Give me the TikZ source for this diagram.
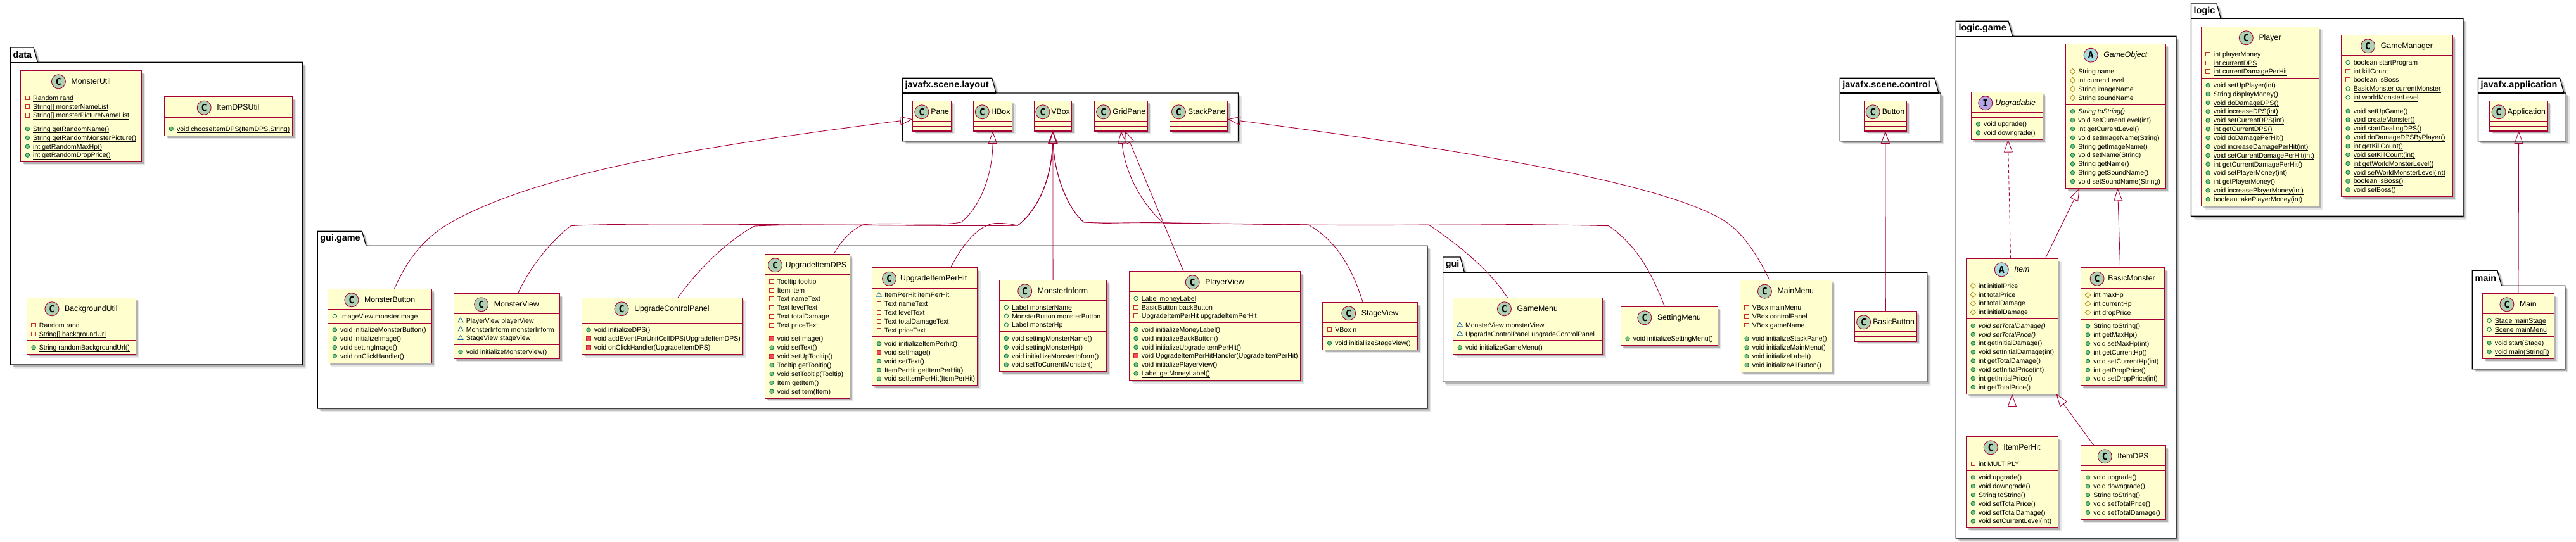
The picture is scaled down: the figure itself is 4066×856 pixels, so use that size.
\documentclass[tikz,border=0pt]{standalone}
\usepackage{fontspec}
\setmainfont{Liberation Sans}
\newfontfamily\spotfont{DejaVu Sans Mono}
\usetikzlibrary{arrows.meta,positioning,shadows,shapes.geometric}

\definecolor{umlred}{HTML}{A80036}
\definecolor{umlfill}{HTML}{FEFECE}
\definecolor{spotgreen}{HTML}{ADD1B2}
\definecolor{spotcyan}{HTML}{A9DCDF}
\definecolor{spotviolet}{HTML}{B4A7E5}
\definecolor{prline}{HTML}{C82930}
\definecolor{prfill}{HTML}{F24D5C}
\definecolor{publine}{HTML}{038048}
\definecolor{pubfill}{HTML}{84BE84}
\definecolor{pkgblue}{HTML}{1963A0}
\definecolor{protbrown}{HTML}{B38D22}

\newcommand{\titlefont}{\fontsize{12.3}{14}\selectfont}
\newcommand{\stc}[1]{\sbox0{#1}\rlap{\rule[-2.8pt]{\wd0}{.8pt}}\usebox0}
\newcommand{\countrows}[2]{\gdef#1{0}\if\relax\detokenize{#2}\relax\else
  \foreach \e [count=\n] in {#2} {\xdef#1{\n}}\fi}
\newcommand{\memberrows}[4]{\if\relax\detokenize{#4}\relax\else
  \foreach \vis/\txt [count=\i] in {#4} {
    \pgfmathsetmacro{\rowy}{#3+3.8+(\i-0.5)*13.85}
    \node[\vis] (#1-mark\i) at (#2+10.7,\rowy) {};
    \node[memberrow] (#1-row\i) at (#2+19.3,\rowy+1.1) {\txt};
  }\fi}
% [spot gap], id, x, y, width, spot letter, title, fields, methods
\newcommand{\classbox}[9][9]{
  \countrows{\nf}{#8}\countrows{\nm}{#9}
  \pgfmathsetmacro{\boxh}{47.6+(\nf+\nm)*13.85}
  \pgfmathsetmacro{\fieldy}{#4+32.4}
  \pgfmathsetmacro{\methody}{\fieldy+7.6+\nf*13.85}
  \pgfmathsetmacro{\methodoff}{\methody-#4}
  \node[umlclass, minimum width=#5pt, minimum height=\boxh pt] (#2) at (#3,#4) {};
  \draw[umlline] ([yshift=-32.4pt]#2.north west) -- ([yshift=-32.4pt]#2.north east);
  \draw[umlline] ([yshift=-\methodoff pt]#2.north west) -- ([yshift=-\methodoff pt]#2.north east);
  \node[classtitle] (#2-title) at (#3+#5/2+11+#1/2,#4+17.5) {#7};
  \node[spot#6, left=#1pt of #2-title] (#2-spot) {#6};
  \memberrows{#2-f}{#3}{\fieldy}{#8}
  \memberrows{#2-m}{#3}{\methody}{#9}
}
% id, x1, tab top, tab right, body top, x2, y2, label
\newcommand{\umlpackage}[8]{
  \filldraw[pkg] (#2,#5) -- (#2,#3) -- (#4,#3) -- (#4+6.5,#5) -- (#6,#5) -- (#6,#7) -- (#2,#7) -- cycle;
  \draw[pkgline] (#2,#5) -- (#4+6.5,#5);
  \node[pkglabel] (#1-label) at (#2+4,{(#3+#5)/2}) {#8};
}

\begin{document}
\begin{tikzpicture}[
  x=1pt, y=-1pt,
  softshadow/.style={drop shadow={shadow xshift=5.5pt, shadow yshift=-5.5pt, fill=black, opacity=.1},
                     drop shadow={shadow xshift=3.5pt, shadow yshift=-3.5pt, fill=black, opacity=.22}},
  umlclass/.style={draw=umlred, fill=umlfill, line width=1.2pt, anchor=north west,
                   inner sep=0pt, outer sep=0pt, softshadow},
  umlline/.style={draw=umlred, line width=1.1pt},
  pkg/.style={draw=black, fill=white, line width=1.2pt, line join=miter, softshadow},
  pkgline/.style={draw=black, line width=1.2pt},
  pkglabel/.style={anchor=west, inner sep=0pt, font=\fontsize{14.4}{16}\selectfont\bfseries},
  classtitle/.style={inner sep=0pt, text height=9pt, text depth=2.5pt, font=\titlefont},
  memberrow/.style={anchor=west, inner sep=0pt, text height=8pt, text depth=2.5pt,
                    font=\fontsize{10.55}{14}\selectfont},
  spotbase/.style={circle, draw=umlred, line width=.9pt, inner sep=0pt, minimum size=22pt,
                   outer sep=0pt, font=\spotfont\fontsize{15}{15}\selectfont\bfseries},
  spotC/.style={spotbase, fill=spotgreen},
  spotA/.style={spotbase, fill=spotcyan},
  spotI/.style={spotbase, fill=spotviolet},
  fpri/.style={rectangle, draw=prline, line width=.8pt, inner sep=0pt, minimum size=6.5pt},
  mpri/.style={rectangle, draw=prline, fill=prfill, line width=.8pt, inner sep=0pt, minimum size=6.5pt},
  fpub/.style={circle, draw=publine, line width=.8pt, inner sep=0pt, minimum size=6.5pt},
  mpub/.style={circle, draw=publine, fill=pubfill, line width=.8pt, inner sep=0pt, minimum size=6.5pt},
  fpkg/.style={regular polygon, regular polygon sides=3, draw=pkgblue, line width=.8pt,
               inner sep=0pt, minimum size=9.5pt},
  fpro/.style={diamond, draw=protbrown, line width=.8pt, inner sep=0pt, minimum size=9pt},
  extends/.style={draw=umlred, line width=.9pt,
                  -{Triangle[open, length=20pt, width=14pt, line width=.9pt]}},
  realizes/.style={extends, dash pattern=on 5pt off 4pt}
]
  \useasboundingbox (0,0) rectangle (4066,856);

  % packages
  \umlpackage{data}{16.3}{75}{53}{98.3}{477.6}{576}{data}
  \umlpackage{guigame}{501.2}{365.3}{571.4}{388.3}{2253}{645}{gui.game}
  \umlpackage{gui}{2277.6}{406}{2305}{430.3}{3041.8}{603.3}{gui}
  \umlpackage{layout}{1424.4}{123.3}{1565.7}{147}{1954.5}{222.7}{javafx.scene.layout}
  \umlpackage{control}{2904.2}{123.3}{3053.5}{147}{3063.3}{222.7}{javafx.scene.control}
  \umlpackage{logicgame}{3087.3}{33.3}{3170}{57.3}{3434.9}{850}{logic.game}
  \umlpackage{logic}{3458.5}{6}{3498.8}{29.3}{3887.9}{341.3}{logic}
  \umlpackage{application}{3911.4}{123.3}{4040.5}{147}{4050.2}{222.7}{javafx.application}
  \umlpackage{mainpkg}{3902.3}{427.3}{3941.9}{451.3}{4048.6}{582.7}{main}

  % data
  \classbox{MonsterUtil}{32.7}{111.3}{191}{C}{MonsterUtil}
    {fpri/{\stc{Random rand}}, fpri/{\stc{String[] monsterNameList}}, fpri/{\stc{String[] monsterPictureNameList}}}
    {mpub/{\stc{String getRandomName()}}, mpub/{\stc{String getRandomMonsterPicture()}},
     mpub/{\stc{int getRandomMaxHp()}}, mpub/{\stc{int getRandomDropPrice()}}}
  \classbox{ItemDPSUtil}{259.6}{152.7}{201.6}{C}{ItemDPSUtil}{}
    {mpub/{\stc{void chooseItemDPS(ItemDPS,String)}}}
  \classbox{BackgroundUtil}{42.4}{470.3}{171.9}{C}{BackgroundUtil}
    {fpri/{\stc{Random rand}}, fpri/{\stc{String[] backgroundUrl}}}
    {mpub/{\stc{String randomBackgroundUrl()}}}

  % gui.game
  \classbox{MonsterButton}{517.6}{456.3}{164}{C}{MonsterButton}
    {fpub/{\stc{ImageView monsterImage}}}
    {mpub/{void initializeMonsterButton()}, mpub/{void initializeImage()},
     mpub/{\stc{void settingImage()}}, mpub/{void onClickHandler()}}
  \classbox{MonsterView}{716.3}{463.3}{167}{C}{MonsterView}
    {fpkg/{PlayerView playerView}, fpkg/{MonsterInform monsterInform}, fpkg/{StageView stageView}}
    {mpub/{void initializeMonsterView()}}
  \classbox{UpgradeControlPanel}{918.4}{470.3}{253}{C}{UpgradeControlPanel}{}
    {mpub/{void initializeDPS()}, mpri/{void addEventForUnitCellDPS(UpgradeItemDPS)},
     mpri/{void onClickHandler(UpgradeItemDPS)}}
  \classbox[5]{UpgradeItemDPS}{1207.3}{401.3}{134.3}{C}{UpgradeItemDPS}
    {fpri/{Tooltip tooltip}, fpri/{Item item}, fpri/{Text nameText}, fpri/{Text levelText},
     fpri/{Text totalDamage}, fpri/{Text priceText}}
    {mpri/{void setImage()}, mpub/{void setText()}, mpri/{void setUpTooltip()},
     mpub/{Tooltip getTooltip()}, mpub/{void setTooltip(Tooltip)}, mpub/{Item getItem()},
     mpub/{void setItem(Item)}}
  \classbox[6.4]{UpgradeItemPerHit}{1376.7}{422.7}{165.7}{C}{UpgradeItemPerHit}
    {fpkg/{ItemPerHit itemPerHit}, fpri/{Text nameText}, fpri/{Text levelText},
     fpri/{Text totalDamageText}, fpri/{Text priceText}}
    {mpub/{void initializeItemPerhit()}, mpri/{void setImage()}, mpub/{void setText()},
     mpub/{ItemPerHit getItemPerHit()}, mpub/{void setItemPerHit(ItemPerHit)}}
  \classbox{MonsterInform}{1577.6}{442.3}{168.9}{C}{MonsterInform}
    {fpub/{\stc{Label monsterName}}, fpub/{\stc{MonsterButton monsterButton}}, fpub/{\stc{Label monsterHp}}}
    {mpub/{void settingMonsterName()}, mpub/{void settingMonsterHp()},
     mpub/{void initiallizeMonsterInform()}, mpub/{\stc{void setToCurrentMonster()}}}
  \classbox{PlayerView}{1782.4}{428.3}{270.3}{C}{PlayerView}
    {fpub/{\stc{Label moneyLabel}}, fpri/{BasicButton backButton}, fpri/{UpgradeItemPerHit upgradeItemPerHit}}
    {mpub/{void initializeMoneyLabel()}, mpub/{void initializeBackButton()},
     mpub/{void initializeUpgradeItemPerHit()}, mpri/{void UpgradeItemPerHitHandler(UpgradeItemPerHit)},
     mpub/{void initializePlayerView()}, mpub/{\stc{Label getMoneyLabel()}}}
  \classbox{StageView}{2087.8}{477.3}{149.8}{C}{StageView}
    {fpri/{VBox n}}
    {mpub/{void initiallizeStageView()}}

  % gui
  \classbox{GameMenu}{2293.5}{470.3}{235.5}{C}{GameMenu}
    {fpkg/{MonsterView monsterView}, fpkg/{UpgradeControlPanel upgradeControlPanel}}
    {mpub/{void initializeGameMenu()}}
  \classbox{SettingMenu}{2558.3}{484.3}{153.4}{C}{SettingMenu}{}
    {mpub/{void initializeSettingMenu()}}
  \classbox{MainMenu}{2746.3}{442.7}{145}{C}{MainMenu}
    {fpri/{VBox mainMenu}, fpri/{VBox controlPanel}, fpri/{VBox gameName}}
    {mpub/{void initializeStackPane()}, mpub/{void initializeMainMenu()},
     mpub/{void initializeLabel()}, mpub/{void initializeAllButton()}}
  \classbox[3.5]{BasicButton}{2927.3}{491.3}{98}{C}{BasicButton}{}{}

  % javafx
  \classbox[3.3]{Pane}{1440.7}{159.3}{60.7}{C}{Pane}{}{}
  \classbox[2.9]{HBox}{1536.6}{159.3}{60.7}{C}{HBox}{}{}
  \classbox[2.4]{VBox}{1632.6}{159.3}{58.6}{C}{VBox}{}{}
  \classbox[3.4]{GridPane}{1727.4}{159.3}{84.2}{C}{GridPane}{}{}
  \classbox[3.3]{StackPane}{1846.3}{159.3}{91.4}{C}{StackPane}{}{}
  \classbox[3.5]{Button}{2942.5}{159.3}{66.5}{C}{Button}{}{}
  \classbox[2.7]{Application}{3929.5}{159.3}{92.2}{C}{Application}{}{}

  % logic.game
  \classbox{GameObject}{3260.8}{69.7}{157.5}{A}{\textit{GameObject}}
    {fpro/{String name}, fpro/{int currentLevel}, fpro/{String imageName}, fpro/{String soundName}}
    {mpub/{\textit{String toString()}}, mpub/{void setCurrentLevel(int)}, mpub/{int getCurrentLevel()},
     mpub/{void setImageName(String)}, mpub/{String getImageName()}, mpub/{void setName(String)},
     mpub/{String getName()}, mpub/{String getSoundName()}, mpub/{void setSoundName(String)}}
  \classbox[4.4]{Upgradable}{3111.7}{145.3}{112.5}{I}{\textit{Upgradable}}{}
    {mpub/{void upgrade()}, mpub/{void downgrade()}}
  \classbox{Item}{3103.6}{408.3}{144.6}{A}{\textit{Item}}
    {fpro/{int initialPrice}, fpro/{int totalPrice}, fpro/{int totalDamage}, fpro/{int initialDamage}}
    {mpub/{\textit{void setTotalDamage()}}, mpub/{\textit{void setTotalPrice()}}, mpub/{int getInitialDamage()},
     mpub/{void setInitialDamage(int)}, mpub/{int getTotalDamage()}, mpub/{void setInitialPrice(int)},
     mpub/{int getInitialPrice()}, mpub/{int getTotalPrice()}}
  \classbox[6]{BasicMonster}{3284.8}{422.7}{131.5}{C}{BasicMonster}
    {fpro/{int maxHp}, fpro/{int currentHp}, fpro/{int dropPrice}}
    {mpub/{String toString()}, mpub/{int getMaxHp()}, mpub/{void setMaxHp(int)}, mpub/{int getCurrentHp()},
     mpub/{void setCurrentHp(int)}, mpub/{int getDropPrice()}, mpub/{void setDropPrice(int)}}
  \classbox{ItemPerHit}{3103.6}{689.3}{144.6}{C}{ItemPerHit}
    {fpri/{int MULTIPLY}}
    {mpub/{void upgrade()}, mpub/{void downgrade()}, mpub/{String toString()}, mpub/{void setTotalPrice()},
     mpub/{void setTotalDamage()}, mpub/{void setCurrentLevel(int)}}
  \classbox{ItemDPS}{3284.8}{703.3}{133.5}{C}{ItemDPS}{}
    {mpub/{void upgrade()}, mpub/{void downgrade()}, mpub/{String toString()}, mpub/{void setTotalPrice()},
     mpub/{void setTotalDamage()}}

  % logic
  \classbox{Player}{3474.4}{42.3}{186}{C}{Player}
    {fpri/{\stc{int playerMoney}}, fpri/{\stc{int currentDPS}}, fpri/{\stc{int currentDamagePerHit}}}
    {mpub/{\stc{void setUpPlayer(int)}}, mpub/{\stc{String displayMoney()}}, mpub/{\stc{void doDamageDPS()}},
     mpub/{\stc{void increaseDPS(int)}}, mpub/{\stc{void setCurrentDPS(int)}}, mpub/{\stc{int getCurrentDPS()}},
     mpub/{\stc{void doDamagePerHit()}}, mpub/{\stc{void increaseDamagePerHit(int)}},
     mpub/{\stc{void setCurrentDamagePerHit(int)}}, mpub/{\stc{int getCurrentDamagePerHit()}},
     mpub/{\stc{void setPlayerMoney(int)}}, mpub/{\stc{int getPlayerMoney()}},
     mpub/{\stc{void increasePlayerMoney(int)}}, mpub/{\stc{boolean takePlayerMoney(int)}}}
  \classbox{GameManager}{3695.3}{55.3}{176.1}{C}{GameManager}
    {fpub/{\stc{boolean startProgram}}, fpri/{\stc{int killCount}}, fpri/{\stc{boolean isBoss}},
     fpub/{\stc{BasicMonster currentMonster}}, fpub/{\stc{int worldMonsterLevel}}}
    {mpub/{\stc{void setUpGame()}}, mpub/{\stc{void createMonster()}}, mpub/{\stc{void startDealingDPS()}},
     mpub/{\stc{void doDamageDPSByPlayer()}}, mpub/{\stc{int getKillCount()}}, mpub/{\stc{void setKillCount(int)}},
     mpub/{\stc{int getWorldMonsterLevel()}}, mpub/{\stc{void setWorldMonsterLevel(int)}},
     mpub/{\stc{boolean isBoss()}}, mpub/{\stc{void setBoss()}}}

  % main
  \classbox{Main}{3918.4}{463.3}{113}{C}{Main}
    {fpub/{\stc{Stage mainStage}}, fpub/{\stc{Scene mainMenu}}}
    {mpub/{void start(Stage)}, mpub/{\stc{void main(String[])}}}

  % where the long edges join before they rise to VBox
  \coordinate (vboxleft) at (1606.5,356);
  \coordinate (vboxright) at (1711,351);

  % inheritance
  \draw[extends] ([xshift=22.8pt]MonsterButton.north) .. controls (645,405) and (670,378) .. (705,355)
    .. controls (850,270) and (1130,228) .. ([yshift=-5.2pt]Pane.west);
  \draw[extends] ([xshift=41.5pt]UpgradeItemDPS.north) .. controls (1325,385) and (1340,365) .. (1362,355)
    .. controls (1400,350) and (1480,358) .. (1517,351) .. controls (1550,325) and (1567,270) .. (HBox.south);
  \draw[extends] ([xshift=17.8pt]MonsterView.north) .. controls (835,425) and (865,385) .. (901,356.7)
    .. controls (1000,350) and (1400,358) .. (vboxleft) .. controls (1640,330) and (1660,280) .. (VBox.south);
  \draw[extends] ([xshift=25pt]UpgradeControlPanel.north) .. controls (1095,435) and (1140,385) .. (1191,357)
    .. controls (1300,352) and (1500,358) .. (vboxleft) .. controls (1640,330) and (1660,280) .. (VBox.south);
  \draw[extends] ([xshift=40.8pt]UpgradeItemPerHit.north) .. controls (1520,385) and (1545,355) .. (1571,352.5)
    .. controls (1585,352) and (1595,354) .. (vboxleft) .. controls (1640,330) and (1660,280) .. (VBox.south);
  \draw[extends] (MonsterInform.north) -- (VBox.south);
  \draw[extends] ([xshift=-11.7pt]StageView.north) .. controls (2135,425) and (2110,380) .. (2065,355)
    .. controls (1900,351) and (1800,356) .. (vboxright) .. controls (1685,330) and (1664,275) .. (VBox.south);
  \draw[extends] ([xshift=-31.6pt]GameMenu.north) .. controls (2350,425) and (2300,385) .. (2255,355)
    .. controls (2050,358) and (1850,350) .. (vboxright) .. controls (1685,330) and (1664,275) .. (VBox.south);
  \draw[extends] ([xshift=-49.5pt]PlayerView.north) -- ([xshift=6.5pt]GridPane.south);
  \draw[extends] ([xshift=-7.5pt]SettingMenu.north) .. controls (2605,425) and (2580,385) .. (2539,356.7)
    .. controls (2300,351) and (2000,356) .. (1836,352) .. controls (1800,320) and (1775,270) .. (GridPane.south);
  \draw[extends] ([xshift=-25.5pt]MainMenu.north) .. controls (2770,395) and (2750,370) .. (2728,353)
    .. controls (2640,290) and (2300,235) .. ([yshift=-5.2pt]StackPane.east);
  \draw[extends] (BasicButton.north) -- (Button.south);
  \draw[extends] (Main.north) -- (Application.south);
  \draw[realizes] ([xshift=-2.4pt]Item.north) -- ([xshift=1.5pt]Upgradable.south);
  \draw[extends] ([xshift=52.4pt]Item.north) -- ([xshift=-57.15pt]GameObject.south);
  \draw[extends] ([xshift=-4pt]BasicMonster.north) -- ([xshift=3pt]GameObject.south);
  \draw[extends] (ItemPerHit.north) -- (Item.south);
  \draw[extends] ([xshift=-46.85pt]ItemDPS.north) -- ([xshift=-2.7pt]Item.south east);
\end{tikzpicture}
\end{document}
